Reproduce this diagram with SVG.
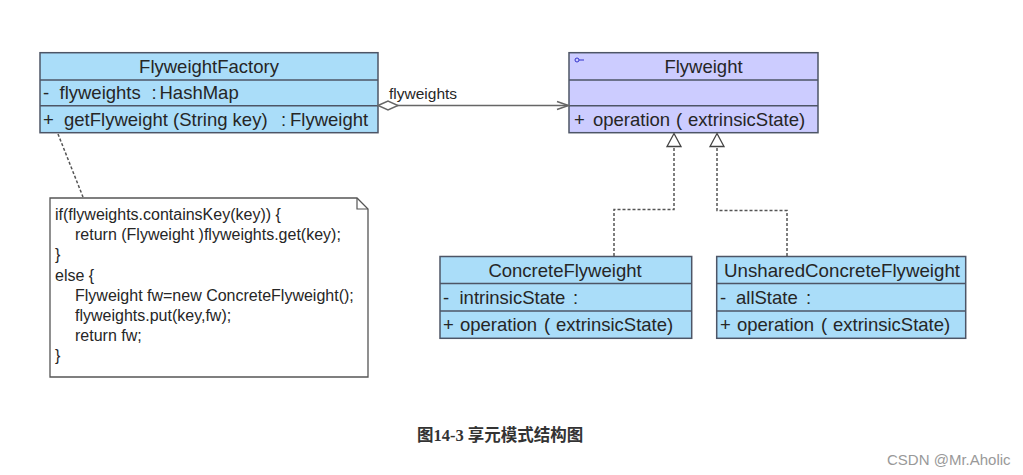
<svg xmlns="http://www.w3.org/2000/svg" width="1023" height="475" viewBox="0 0 1023 475">
<style>
.box{fill:#AADDF9;stroke:#4D5566;stroke-width:1.5}
.boxp{fill:#CCCCFF;stroke:#4D5566;stroke-width:1.5}
.div{stroke:#4D5566;stroke-width:1.5}
.t{font-family:"Liberation Sans",Arial,sans-serif;font-size:18.5px;fill:#262626}
.n{font-family:"Liberation Sans",Arial,sans-serif;font-size:16px;fill:#262626}
.dash{fill:none;stroke:#555;stroke-width:1.5;stroke-dasharray:3 2}
.line{fill:none;stroke:#666;stroke-width:1.5}
.tri{fill:#fff;stroke:#444;stroke-width:1.3}
</style>
<rect width="1023" height="475" fill="#fff"/>

<g id="FlyweightFactory">
<rect class="box" x="40" y="52.7" width="338" height="80"/>
<line class="div" x1="40" y1="80" x2="378" y2="80"/>
<line class="div" x1="40" y1="105.7" x2="378" y2="105.7"/>
<text class="t" x="209" y="73" text-anchor="middle">FlyweightFactory</text>
<text class="t" y="99.3"><tspan x="43">-</tspan><tspan x="59.5">flyweights</tspan><tspan x="151.5">:</tspan><tspan x="159.5">HashMap</tspan></text>
<text class="t" y="125.5"><tspan x="43">+</tspan><tspan x="64">getFlyweight (String key)</tspan><tspan x="281">:</tspan><tspan x="290">Flyweight</tspan></text>
</g>

<g id="Flyweight">
<rect class="boxp" x="569" y="52.7" width="249" height="80"/>
<line class="div" x1="569" y1="80" x2="818" y2="80"/>
<line class="div" x1="569" y1="105.7" x2="818" y2="105.7"/>
<circle cx="577" cy="60" r="2" fill="none" stroke="#3333CC" stroke-width="1"/>
<line x1="579" y1="60" x2="584" y2="60" stroke="#3333CC" stroke-width="1"/>
<text class="t" x="703.5" y="73" text-anchor="middle">Flyweight</text>
<text class="t" y="125.5"><tspan x="574">+</tspan><tspan x="593">operation</tspan><tspan x="676">(</tspan><tspan x="688">extrinsicState)</tspan></text>
</g>

<g id="ConcreteFlyweight">
<rect class="box" x="440" y="256.5" width="251.7" height="81.8"/>
<line class="div" x1="440" y1="283.5" x2="691.7" y2="283.5"/>
<line class="div" x1="440" y1="311" x2="691.7" y2="311"/>
<text class="t" x="565" y="276.5" text-anchor="middle">ConcreteFlyweight</text>
<text class="t" y="303.5"><tspan x="443">-</tspan><tspan x="459.5">intrinsicState</tspan><tspan x="573">:</tspan></text>
<text class="t" y="331"><tspan x="443">+</tspan><tspan x="460">operation</tspan><tspan x="544">(</tspan><tspan x="556">extrinsicState)</tspan></text>
</g>

<g id="UnsharedConcreteFlyweight">
<rect class="box" x="716.7" y="256.5" width="249" height="81.8"/>
<line class="div" x1="716.7" y1="283.5" x2="965.7" y2="283.5"/>
<line class="div" x1="716.7" y1="311" x2="965.7" y2="311"/>
<text class="t" x="842" y="276.5" text-anchor="middle" textLength="236" lengthAdjust="spacingAndGlyphs">UnsharedConcreteFlyweight</text>
<text class="t" y="303.5"><tspan x="720">-</tspan><tspan x="736">allState</tspan><tspan x="806">:</tspan></text>
<text class="t" y="331"><tspan x="720">+</tspan><tspan x="737">operation</tspan><tspan x="821">(</tspan><tspan x="833">extrinsicState)</tspan></text>
</g>

<g id="note">
<polygon points="50,198 357,198 368,209 368,377 50,377" fill="#fff" stroke="#555" stroke-width="1.3"/>
<polyline points="357,198 357,209 368,209" fill="none" stroke="#555" stroke-width="1.2"/>
<text class="n" x="55" y="220">if(flyweights.containsKey(key)) {</text>
<text class="n" x="75" y="240.2">return (Flyweight )flyweights.get(key);</text>
<text class="n" x="55" y="260.4">}</text>
<text class="n" x="55" y="280.6">else {</text>
<text class="n" x="75" y="300.8">Flyweight fw=new ConcreteFlyweight();</text>
<text class="n" x="75" y="321">flyweights.put(key,fw);</text>
<text class="n" x="75" y="341.2">return fw;</text>
<text class="n" x="55" y="361.4">}</text>
</g>

<g id="connectors">
<line class="dash" x1="58" y1="134" x2="83" y2="197"/>
<line class="line" x1="397" y1="105.5" x2="568" y2="105.5"/>
<polygon points="378,105.5 388,101 398,105.5 388,110" fill="#fff" stroke="#666" stroke-width="1.4"/>
<polyline points="557,101.5 568.5,105.5 557,109.5" class="line"/>
<text x="389" y="99" font-family="'Liberation Sans',Arial,sans-serif" font-size="15.5" fill="#262626">flyweights</text>
<polyline class="dash" points="614,256 614,209.5 674,209.5 674,146.5"/>
<polyline class="dash" points="787,256 787,210.5 717,210.5 717,146.5"/>
<polygon class="tri" points="674,133.5 681,146.5 667,146.5"/>
<polygon class="tri" points="717,133.5 724,146.5 710,146.5"/>
</g>

<text x="417" y="441" font-family="'Liberation Serif','Noto Sans CJK SC',serif" font-size="16.5" font-weight="bold" fill="#333">图14-3 享元模式结构图</text>
<text x="887" y="465" font-family="'Liberation Sans',Arial,sans-serif" font-size="15" fill="#999">CSDN @Mr.Aholic</text>
</svg>
